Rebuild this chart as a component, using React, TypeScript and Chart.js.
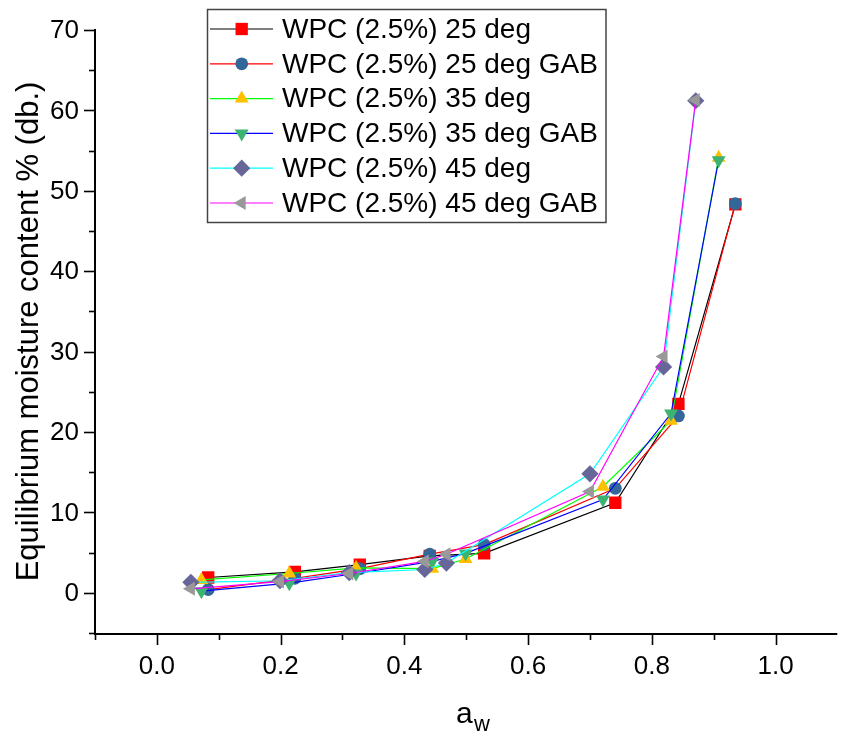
import React, { useEffect, useRef } from 'react';
import { Chart, registerables } from 'chart.js';
import { drawPoint } from 'chart.js/helpers';

Chart.register(...registerables);

// ---------- data ----------
const seriesLabels = [
  'WPC (2.5%) 25 deg',
  'WPC (2.5%) 25 deg GAB',
  'WPC (2.5%) 35 deg',
  'WPC (2.5%) 35 deg GAB',
  'WPC (2.5%) 45 deg',
  'WPC (2.5%) 45 deg GAB',
];

const aw25 = [0.083, 0.223, 0.328, 0.441, 0.529, 0.741, 0.843, 0.935];
const emc25 = [1.9, 2.6, 3.5, 4.6, 4.9, 11.2, 23.5, 48.3];
const emc25GAB = [0.4, 1.8, 3.0, 4.8, 6.0, 13.0, 22.0, 48.4];

const aw35 = [0.072, 0.214, 0.322, 0.445, 0.499, 0.721, 0.831, 0.908];
const emc35 = [1.6, 2.4, 3.1, 3.0, 4.2, 13.2, 21.4, 54.1];
const emc35GAB = [0.2, 1.2, 2.4, 3.9, 4.9, 11.6, 22.3, 53.8];

const aw45 = [0.055, 0.199, 0.311, 0.433, 0.468, 0.7, 0.819, 0.871];
const emc45 = [1.3, 1.5, 2.5, 2.9, 3.7, 14.8, 28.1, 61.2];
const emc45GAB = [0.5, 1.4, 2.4, 3.9, 4.8, 12.6, 29.4, 61.3];

const xMajorTicks = [0, 0.2, 0.4, 0.6, 0.8, 1.0];
const xTickLabels = ['0.0', '0.2', '0.4', '0.6', '0.8', '1.0'];
const xMinorTicks = [-0.1, 0.1, 0.3, 0.5, 0.7, 0.9];
const yMajorTicks = [0, 10, 20, 30, 40, 50, 60, 70];
const yTickLabels = ['0', '10', '20', '30', '40', '50', '60', '70'];
const yMinorTicks = [-5, 5, 15, 25, 35, 45, 55, 65];

const xTitle = 'a';
const xTitleSub = 'w';
const yTitle = 'Equilibrium moisture content % (db.)';

// ---------- styles ----------
const FONT = '"Liberation Sans", Arial, sans-serif';
const lineColors = ['#000000', '#ff0000', '#00ff00', '#0000ff', '#00ffff', '#ff00ff'];
const markerColors = ['#ff0000', '#336699', '#ffc000', '#3cb371', '#666699', '#999999'];
const pointStyles = ['rect', 'circle', 'triangle', 'triangle', 'rectRot', 'triangle'];
const rotations = [0, 0, 0, 180, 0, -90];
const radii = [8.7, 6.4, 8, 8, 8.6, 8];

const xs = [aw25, aw25, aw35, aw35, aw45, aw45];
const ys = [emc25, emc25GAB, emc35, emc35GAB, emc45, emc45GAB];

const axesPlugin = {
  id: 'customAxes',
  beforeDatasetsDraw(chart: any) {
    const { ctx, chartArea, scales } = chart;
    const xs_ = scales.x;
    const ys_ = scales.y;
    ctx.save();
    ctx.strokeStyle = '#000';
    ctx.fillStyle = '#000';
    ctx.lineWidth = 2;
    // axis lines
    ctx.beginPath();
    ctx.moveTo(chartArea.left, chartArea.top - 1);
    ctx.lineTo(chartArea.left, chartArea.bottom + 1);
    ctx.lineTo(chartArea.right + 5, chartArea.bottom + 1);
    ctx.stroke();
    // y ticks
    ctx.lineWidth = 1.6;
    yMajorTicks.forEach((v) => {
      const p = Math.round(ys_.getPixelForValue(v)) + 0.5;
      ctx.beginPath();
      ctx.moveTo(chartArea.left, p);
      ctx.lineTo(chartArea.left - 11, p);
      ctx.stroke();
    });
    yMinorTicks.forEach((v) => {
      const p = Math.round(ys_.getPixelForValue(v)) + 0.5;
      ctx.beginPath();
      ctx.moveTo(chartArea.left, p);
      ctx.lineTo(chartArea.left - 6, p);
      ctx.stroke();
    });
    xMajorTicks.forEach((v) => {
      const p = Math.round(xs_.getPixelForValue(v)) + 0.5;
      ctx.beginPath();
      ctx.moveTo(p, chartArea.bottom);
      ctx.lineTo(p, chartArea.bottom + 12);
      ctx.stroke();
    });
    xMinorTicks.forEach((v) => {
      const p = Math.round(xs_.getPixelForValue(v)) + 0.5;
      ctx.beginPath();
      ctx.moveTo(p, chartArea.bottom);
      ctx.lineTo(p, chartArea.bottom + 7);
      ctx.stroke();
    });
    // tick labels
    ctx.font = `26px ${FONT}`;
    ctx.textAlign = 'right';
    ctx.textBaseline = 'middle';
    yMajorTicks.forEach((v, i) => {
      ctx.fillText(yTickLabels[i], chartArea.left - 16, ys_.getPixelForValue(v) + 1);
    });
    ctx.textAlign = 'center';
    xMajorTicks.forEach((v, i) => {
      ctx.fillText(xTickLabels[i], xs_.getPixelForValue(v), chartArea.bottom + 34);
    });
    // titles
    ctx.font = `31px ${FONT}`;
    ctx.save();
    ctx.translate(29, (chartArea.top + chartArea.bottom) / 2);
    ctx.rotate(-Math.PI / 2);
    ctx.textAlign = 'center';
    ctx.textBaseline = 'middle';
    ctx.fillText(yTitle, 0, 0);
    ctx.restore();
    ctx.textAlign = 'left';
    ctx.textBaseline = 'alphabetic';
    ctx.font = `30px ${FONT}`;
    ctx.fillText(xTitle, 456, 723);
    ctx.font = `22px ${FONT}`;
    ctx.fillText(xTitleSub, 474, 731);
    ctx.restore();
  },
  afterDraw(chart: any) {
    const { ctx } = chart;
    ctx.save();
    // legend box
    ctx.strokeStyle = '#444';
    ctx.lineWidth = 1.5;
    ctx.strokeRect(207.5, 9.5, 398.5, 213);
    const rowY0 = 29;
    const step = 34.8;
    seriesLabels.forEach((label, i) => {
      const y = rowY0 + i * step;
      ctx.strokeStyle = lineColors[i];
      ctx.lineWidth = 1.2;
      ctx.beginPath();
      ctx.moveTo(210, y);
      ctx.lineTo(273, y);
      ctx.stroke();
      ctx.fillStyle = markerColors[i];
      ctx.strokeStyle = markerColors[i];
      drawPoint(ctx, { pointStyle: pointStyles[i], rotation: rotations[i], radius: radii[i], borderWidth: 0 } as any, 241.7, y);
      ctx.fillStyle = '#000';
      ctx.font = `28px ${FONT}`;
      ctx.textAlign = 'left';
      ctx.textBaseline = 'middle';
      ctx.fillText(label, 282, y + 1);
    });
    ctx.restore();
  },
};

export default function App() {
  const canvasRef = useRef<HTMLCanvasElement | null>(null);

  useEffect(() => {
    if (!canvasRef.current) return;
    const datasets = seriesLabels.map((label, i) => ({
      label,
      data: xs[i].map((x, j) => ({ x, y: ys[i][j] })),
      showLine: true,
      borderColor: lineColors[i],
      borderWidth: 1.2,
      backgroundColor: markerColors[i],
      pointBackgroundColor: markerColors[i],
      pointBorderColor: markerColors[i],
      pointBorderWidth: 0,
      pointStyle: pointStyles[i],
      pointRotation: rotations[i],
      pointRadius: radii[i],
      pointHoverRadius: radii[i],
      tension: 0,
      order: seriesLabels.length - i,
    }));
    const chart = new Chart(canvasRef.current, {
      type: 'scatter',
      data: { datasets },
      options: {
        animation: false,
        responsive: false,
        maintainAspectRatio: false,
        layout: { padding: { top: 30, left: 0, right: 0, bottom: 0 } },
        plugins: { legend: { display: false }, tooltip: { enabled: false } },
        scales: {
          x: {
            type: 'linear',
            min: -0.1,
            max: 1.0917,
            grid: { display: false },
            border: { display: false },
            ticks: { display: false },
            afterFit: (s: any) => { s.height = 102; },
          },
          y: {
            type: 'linear',
            min: -5,
            max: 70,
            grid: { display: false },
            border: { display: false },
            ticks: { display: false },
            afterFit: (s: any) => { s.width = 95; },
          },
        },
      } as any,
      plugins: [axesPlugin],
    });
    return () => chart.destroy();
  }, []);

  return (
    <div style={{ position: 'absolute', left: 0, top: 0, width: 841, height: 735, background: '#fff' }}>
      <canvas ref={canvasRef} width={841} height={735} style={{ width: 841, height: 735, display: 'block' }} />
    </div>
  );
}
